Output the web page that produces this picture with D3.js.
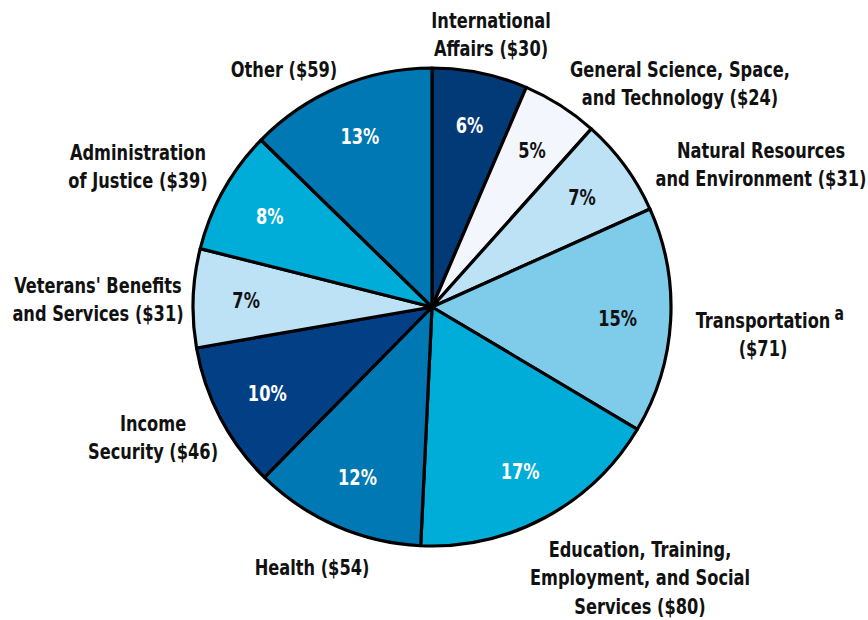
<!DOCTYPE html>
<html>
<head>
<meta charset="utf-8">
<title>Spending by function</title>
<script src="https://d3js.org/d3.v7.min.js"></script>
<style>
  body { margin: 0; background: #fff; }
  text { font-family: "DejaVu Sans Condensed", "DejaVu Sans", sans-serif; font-weight: bold; }
</style>
</head>
<body>
<svg id="chart"></svg>
<script>
// slices, clockwise from 12 o'clock
var names = ["International Affairs", "General Science, Space, and Technology", "Natural Resources and Environment",
  "Transportation", "Education, Training, Employment, and Social Services", "Health", "Income Security",
  "Veterans' Benefits and Services", "Administration of Justice", "Other"];
var amounts = [30, 24, 31, 71, 80, 54, 46, 31, 39, 59];
var percents = ["6%", "5%", "7%", "15%", "17%", "12%", "10%", "7%", "8%", "13%"];
var colors = ["#023a78", "#f3f7fd", "#bde2f5", "#7fcbea", "#00acd8", "#0078b3", "#023f84", "#bde2f5", "#00acd8", "#0078b3"];
var darkText = [false, true, true, true, false, false, false, true, false, false];
// outside label lines
var labelLines = [
  ["International", "Affairs ($30)"],
  ["General Science, Space,", "and Technology ($24)"],
  ["Natural Resources", "and Environment ($31)"],
  ["Transportation", "($71)"],
  ["Education, Training,", "Employment, and Social", "Services ($80)"],
  ["Health ($54)"],
  ["Income", "Security ($46)"],
  ["Veterans' Benefits", "and Services ($31)"],
  ["Administration", "of Justice ($39)"],
  ["Other ($59)"]
];
var footnote = { slice: 3, mark: "a" };

var width = 868, height = 620;
var cx = 432, cy = 307, radius = 239;
var lineH = 28.5;
var squeeze = 0.82; // the original face is a condensed one
// label block anchors (centre x, first baseline y) relative to the pie centre
var labelAt = [[59, -279], [248, -230], [329, -149], [331, 21], [208, 250], [-120, 268], [-279, 124], [-334, -14], [-294, -147], [-148, -230]];

var svg = d3.select("#chart").attr("width", width).attr("height", height);
var g = svg.append("g").attr("transform", "translate(" + cx + "," + cy + ")");

var pie = d3.pie().sort(null).value(function (d) { return d; });
var arcs = pie(amounts);
var arc = d3.arc().innerRadius(0).outerRadius(radius);
var labelArc = d3.arc().innerRadius(186).outerRadius(186);

g.selectAll("path.slice")
  .data(arcs)
  .enter()
  .append("path")
  .attr("class", "slice")
  .attr("d", arc)
  .attr("fill", function (d, i) { return colors[i]; })
  .attr("stroke", "#000")
  .attr("stroke-width", 3.2)
  .attr("stroke-linejoin", "round");

g.selectAll("text.pct")
  .data(arcs)
  .enter()
  .append("text")
  .attr("class", "pct")
  .attr("transform", function (d) { return "translate(" + labelArc.centroid(d) + ") scale(" + squeeze + ",1)"; })
  .attr("dy", "0.36em")
  .attr("text-anchor", "middle")
  .attr("font-size", 22)
  .attr("fill", function (d, i) { return darkText[i] ? "#111" : "#fff"; })
  .text(function (d, i) { return percents[i]; });

var labels = g.selectAll("text.lbl")
  .data(labelLines)
  .enter()
  .append("text")
  .attr("class", "lbl")
  .attr("text-anchor", "middle")
  .attr("font-size", 22)
  .attr("fill", "#111")
  .attr("transform", function (d, i) { return "translate(" + labelAt[i] + ") scale(" + squeeze + ",1)"; });

labels.selectAll("tspan")
  .data(function (d) { return d; })
  .enter()
  .append("tspan")
  .attr("x", 0)
  .attr("dy", function (d, j) { return j === 0 ? 0 : lineH; })
  .text(function (d) { return d; });

// footnote marker after the first line of the Transportation label
var firstLine = labels.filter(function (d, i) { return i === footnote.slice; }).select("tspan").node();
var half = firstLine.getComputedTextLength() / 2;
g.append("text")
  .attr("font-size", 19)
  .attr("fill", "#111")
  .attr("transform", "translate(" + labelAt[footnote.slice] + ") scale(" + squeeze + ",1)")
  .attr("x", half + 5)
  .attr("y", -8)
  .text(footnote.mark);
</script>
</body>
</html>
